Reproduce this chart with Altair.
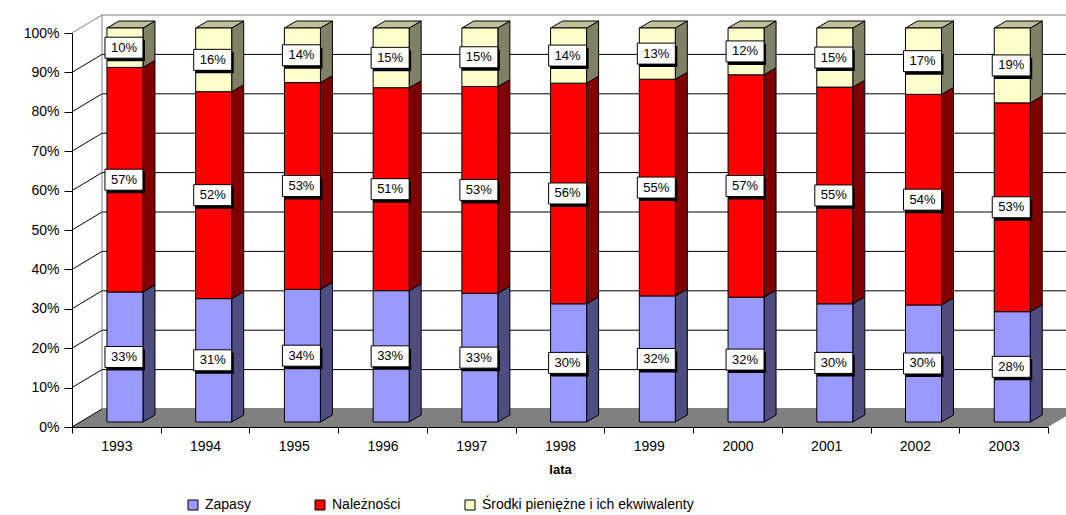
import altair as alt
import pandas as pd

# ---------------- data ----------------
years = ['1993', '1994', '1995', '1996', '1997', '1998', '1999', '2000', '2001', '2002', '2003']
series = ['Zapasy', 'Należności', 'Środki pieniężne i ich ekwiwalenty']
zapasy = [33, 31, 34, 33, 33, 30, 32, 32, 30, 30, 28]
naleznosci = [57, 52, 53, 51, 53, 56, 55, 57, 55, 54, 53]
srodki = [10, 16, 14, 15, 15, 14, 13, 12, 15, 17, 19]
y_ticks = [0.0, 0.1, 0.2, 0.3, 0.4, 0.5, 0.6, 0.7, 0.8, 0.9, 1.0]

front_colors = ['#9999FF', '#FF0000', '#FFFFCC']
side_colors = ['#4D4D80', '#800000', '#808066']
top_color = '#C0C09C'

# ---------------- geometry (pixels -> data units) ----------------
W, H = 976, 394
n = len(years)
ux = W / n
uy = H
def px_x(p):
    return p / ux
def px_y(p):
    return p / uy

WALL_DX, WALL_DY = px_x(30), px_y(18)
BAR_DX, BAR_DY = px_x(8.6), px_y(5)
HALF = px_x(18)
DEPTH_X, DEPTH_Y = px_x(12), px_y(7)
BOX_HW, BOX_HH = px_x(19), px_y(10.5)
SH_X, SH_Y = px_x(2), px_y(3)
XMIN, XMAX = -0.5, n - 0.5

xs = alt.Scale(domain=[XMIN, XMAX], nice=False, zero=False)
ys = alt.Scale(domain=[0, 1], nice=False, zero=False)

year_arr = '[' + ','.join(f"'{y}'" for y in years) + ']'
x_vals = [k / 2 - 0.5 for k in range(2 * n + 1)]
x_axis = alt.Axis(values=x_vals,
                  labelExpr=f"datum.value % 1 == 0 ? {year_arr}[datum.value] : ''",
                  tickOpacity={"condition": {"test": "datum.value % 1 != 0", "value": 1}, "value": 0},
                  tickSize=6, labelPadding=6, labelOverlap=False, labelFlush=False, grid=False,
                  title='lata', titleFontWeight='bold', titleFontSize=13, titlePadding=10,
                  domainColor='black', tickColor='black')
y_axis = alt.Axis(values=y_ticks, format='.0%', tickSize=8, labelPadding=5, grid=False,
                  title=None, domainColor='black', tickColor='black')

def X(f):
    return alt.X(f, type='quantitative', scale=xs, axis=x_axis)

def Y(f):
    return alt.Y(f, type='quantitative', scale=ys, axis=y_axis)

# ---------------- build tables ----------------
vals = [zapasy, naleznosci, srodki]
front, side, top, boxes = [], [], [], []
for i in range(n):
    tot = sum(v[i] for v in vals)
    cum = 0
    cx = i + BAR_DX
    xl, xr = cx - HALF, cx + HALF
    for s in range(3):
        y0 = cum / tot
        cum += vals[s][i]
        y1 = cum / tot
        front.append(dict(series=series[s], x1=xl, x2=xr, y1=y0 + BAR_DY, y2=y1 + BAR_DY))
        sid = f'{i}-{s}'
        side.append(dict(seg=sid, fill=side_colors[s], x=xr, lo=y0 + BAR_DY, hi=y1 + BAR_DY))
        side.append(dict(seg=sid, fill=side_colors[s], x=xr + DEPTH_X, lo=y0 + BAR_DY + DEPTH_Y, hi=y1 + BAR_DY + DEPTH_Y))
        mid = (y0 + y1) / 2 + BAR_DY
        bx = cx - px_x(1)
        boxes.append(dict(label=f'{vals[s][i]}%', cx=bx, cy=mid,
                          bx1=bx - BOX_HW, bx2=bx + BOX_HW, by1=mid - BOX_HH, by2=mid + BOX_HH,
                          sx1=bx - BOX_HW + SH_X, sx2=bx + BOX_HW + SH_X,
                          sy1=mid - BOX_HH - SH_Y, sy2=mid + BOX_HH - SH_Y))
    yt = 1 + BAR_DY
    top += [dict(bar=i, x=xl, lo=yt, hi=yt),
            dict(bar=i, x=xl + DEPTH_X, lo=yt, hi=yt + DEPTH_Y),
            dict(bar=i, x=xr, lo=yt, hi=yt + DEPTH_Y),
            dict(bar=i, x=xr + DEPTH_X, lo=yt + DEPTH_Y, hi=yt + DEPTH_Y)]

front_df = pd.DataFrame(front)
side_df = pd.DataFrame(side)
top_df = pd.DataFrame(top)
box_df = pd.DataFrame(boxes)

grid_df = pd.DataFrame([dict(x1=XMIN + WALL_DX, x2=XMAX + WALL_DX + 1, y=t + WALL_DY,
                             c='#808080' if t == 1.0 else '#000000') for t in y_ticks])
diag_df = pd.DataFrame([dict(x1=XMIN, x2=XMIN + WALL_DX, y1=t, y2=t + WALL_DY,
                             c='#808080' if t == 1.0 else '#000000') for t in y_ticks])
wall_edge_df = pd.DataFrame([dict(x=XMIN + WALL_DX, y1=WALL_DY, y2=1 + WALL_DY)])
floor_df = pd.DataFrame([dict(x=XMIN, lo=0, hi=0),
                         dict(x=XMIN + WALL_DX, lo=0, hi=WALL_DY),
                         dict(x=XMAX, lo=0, hi=WALL_DY),
                         dict(x=XMAX + WALL_DX, lo=WALL_DY, hi=WALL_DY)])

# ---------------- layers ----------------
grid = alt.Chart(grid_df).mark_rule(strokeWidth=1).encode(
    x=X('x1'), x2='x2', y=Y('y'), color=alt.Color('c:N', scale=None))
wall_edge = alt.Chart(wall_edge_df).mark_rule(color='#808080', strokeWidth=1).encode(
    x=X('x'), y=Y('y1'), y2='y2')
floor = alt.Chart(floor_df).mark_area(orient='vertical', color='#808080', opacity=1).encode(
    x=X('x'), y=Y('lo'), y2='hi')
diag = alt.Chart(diag_df).mark_rule(strokeWidth=1).encode(
    x=X('x1'), x2='x2', y=Y('y1'), y2='y2', color=alt.Color('c:N', scale=None))

side_l = alt.Chart(side_df).mark_area(orient='vertical', stroke='black', strokeWidth=1, opacity=1).encode(
    x=X('x'), y=Y('lo'), y2='hi', fill=alt.Fill('fill:N', scale=None), detail='seg:N')
top_l = alt.Chart(top_df).mark_area(orient='vertical', fill=top_color, stroke='black', strokeWidth=1, opacity=1).encode(
    x=X('x'), y=Y('lo'), y2='hi', detail='bar:N')

front_l = alt.Chart(front_df).mark_rect(stroke='black', strokeWidth=1, opacity=1).encode(
    x=X('x1'), x2='x2',
    y=Y('y1'), y2='y2',
    color=alt.Color('series:N', scale=alt.Scale(domain=series, range=front_colors),
                    legend=alt.Legend(title=None, orient='none', direction='horizontal',
                                      legendX=114, legendY=465, columnPadding=62, padding=0,
                                      symbolType='square', symbolSize=100,
                                      symbolStrokeColor='black', symbolStrokeWidth=1,
                                      labelFontSize=14, labelLimit=400, labelOffset=5)))

shadow = alt.Chart(box_df).mark_rect(color='black', opacity=1).encode(
    x=X('sx1'), x2='sx2', y=Y('sy1'), y2='sy2')
box = alt.Chart(box_df).mark_rect(fill='white', stroke='black', strokeWidth=1, opacity=1).encode(
    x=X('bx1'), x2='bx2', y=Y('by1'), y2='by2')
text = alt.Chart(box_df).mark_text(fontSize=13, font='Liberation Sans', color='black',
                                   align='center', baseline='middle').encode(
    x=X('cx'), y=Y('cy'), text='label:N')

chart = alt.layer(grid, wall_edge, floor, diag, side_l, top_l, front_l, shadow, box, text).properties(
    width=W, height=H,
    padding={'left': 72, 'top': 33, 'right': 18, 'bottom': 88},
    autosize=alt.AutoSizeParams(type='none'),
    background='white'
).configure_view(stroke=None).configure_axis(
    labelFont='Liberation Sans', labelFontSize=14, labelColor='black',
    titleFont='Liberation Sans', titleColor='black'
).configure_legend(labelFont='Liberation Sans', labelColor='black')

chart.save("out.html", embed_options={"renderer": "svg", "actions": False})
